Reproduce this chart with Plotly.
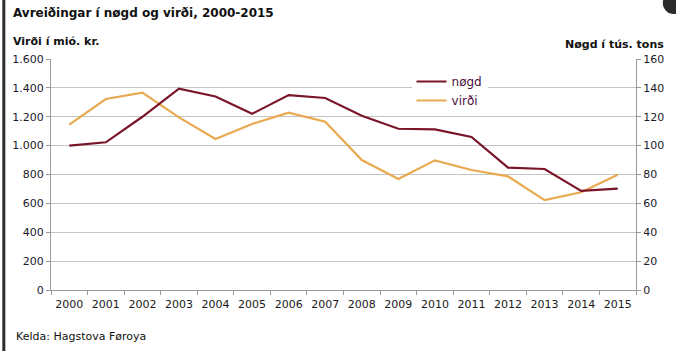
import plotly.graph_objects as go

years = [str(y) for y in range(2000, 2016)]
# virði (mió. kr.) - left axis
virdi = [1145, 1323, 1367, 1196, 1046, 1150, 1228, 1166, 900, 769, 898, 831, 787, 623, 677, 799]
# nøgd (tús. tons) - right axis
nogd = [100, 102.3, 120, 139.5, 134, 122, 135, 133, 120.7, 111.7, 111.3, 106, 84.7, 83.8, 68.6, 70.2]

left_ticks = [0, 200, 400, 600, 800, 1000, 1200, 1400, 1600]
left_tick_text = ["0", "200", "400", "600", "800", "1.000", "1.200", "1.400", "1.600"]
right_ticks = [0, 20, 40, 60, 80, 100, 120, 140, 160]

W, H = 676, 351
L, R, T, B = 49, 38, 59, 61
pw, ph = W - L - R, H - T - B

def px(x):
    return (x - L) / pw

def py(y):
    return (H - B - y) / ph

FONT = "DejaVu Sans"
NOGD_C = "#7a1428"
VIRDI_C = "#e8a94f"

fig = go.Figure()
fig.add_trace(go.Scatter(x=years, y=nogd, name="nøgd", mode="lines",
                         line=dict(color=NOGD_C, width=2.2), yaxis="y2"))
fig.add_trace(go.Scatter(x=years, y=virdi, name="virði", mode="lines",
                         line=dict(color=VIRDI_C, width=2.2)))

fig.update_layout(
    width=W, height=H,
    margin=dict(l=L, r=R, t=T, b=B, pad=0),
    paper_bgcolor="white", plot_bgcolor="white",
    font=dict(family=FONT, size=11, color="#1a1a1a"),
    showlegend=True,
    legend=dict(x=px(412), y=py(67), xanchor="left", yanchor="top",
                bgcolor="white", borderwidth=0,
                font=dict(family=FONT, size=12, color="#4a1040"),
                itemwidth=30, tracegroupgap=4),
    xaxis=dict(type="category", showgrid=False, showline=True, linecolor="#999999",
               linewidth=1, ticks="outside", tickson="boundaries", ticklen=4,
               tickcolor="#999999", tickfont=dict(size=11, color="#1a1a1a"),
               ticklabelstandoff=4,
               tickangle=0, range=[-0.5, 15.5], fixedrange=True),
    yaxis=dict(range=[0, 1600], tickvals=left_ticks, ticktext=left_tick_text,
               showgrid=True, gridcolor="#c4c4c4", gridwidth=1, showline=True,
               linecolor="#999999", ticks="outside", ticklen=4, tickcolor="#999999",
               zeroline=False, tickfont=dict(size=11, color="#1a1a2a")),
    yaxis2=dict(range=[0, 160], tickvals=right_ticks, overlaying="y", side="right",
                showgrid=False, showline=True, linecolor="#999999", ticks="outside",
                ticklen=4, tickcolor="#999999", zeroline=False,
                tickfont=dict(size=11, color="#1a1a2a")),
)

annotations = [
    dict(text="<b>Avreiðingar í nøgd og virði, 2000-2015</b>", x=px(9), y=py(13),
         xanchor="left", yanchor="middle", font=dict(size=12, color="#111111")),
    dict(text="<b>Virði í mió. kr.</b>", x=px(9), y=py(42),
         xanchor="left", yanchor="middle", font=dict(size=11, color="#111111")),
    dict(text="<b>Nøgd í tús. tons</b>", x=px(668), y=py(44),
         xanchor="right", yanchor="middle", font=dict(size=11, color="#111111")),
    dict(text="Kelda: Hagstova Føroya", x=px(12), y=py(336),
         xanchor="left", yanchor="middle", font=dict(size=11, color="#111111")),
]
for a in annotations:
    a.update(xref="paper", yref="paper", showarrow=False)
fig.update_layout(annotations=annotations)

fig.update_layout(shapes=[
    dict(type="rect", xref="paper", yref="paper", x0=px(0), x1=px(3), y0=py(351), y1=py(0),
         fillcolor="#2b2b2b", line=dict(width=0), layer="above"),
    dict(type="circle", xref="paper", yref="paper", x0=px(665), x1=px(687), y0=py(14), y1=py(-8),
         fillcolor="#2b2b2b", line=dict(width=0), layer="above"),
])

fig.write_html("out.html")
